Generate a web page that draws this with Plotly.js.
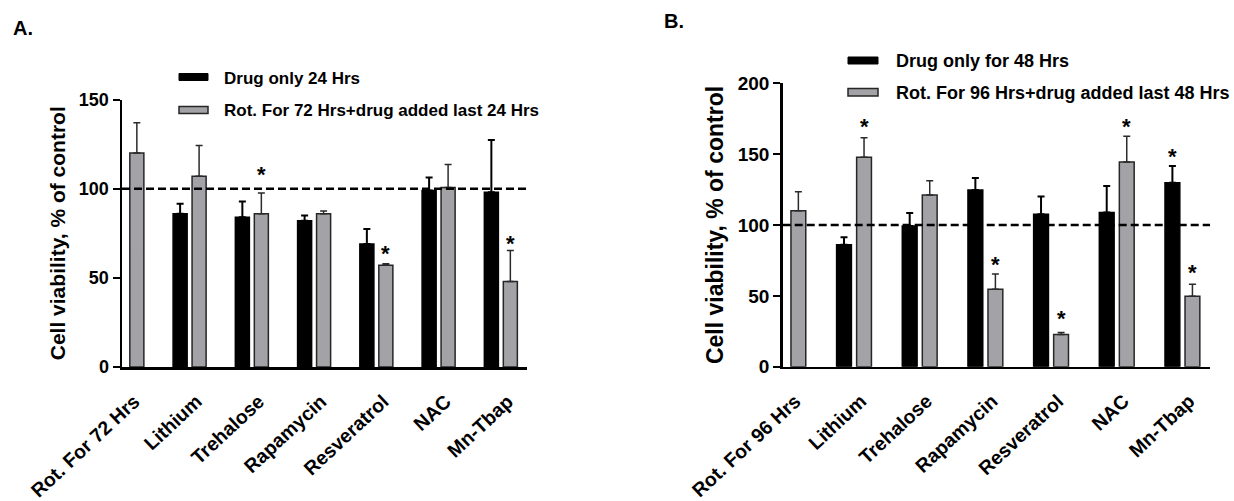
<!DOCTYPE html>
<html>
<head>
<meta charset="utf-8">
<script src="https://cdn.plot.ly/plotly-3.0.1.min.js"></script>
<style>
  html, body { margin: 0; padding: 0; background: #ffffff; }
  #chart { width: 1234px; height: 501px; }
</style>
</head>
<body>
<div id="chart"></div>
<script>
// ---------- data ----------
const categoriesA = ['Rot. For 72 Hrs', 'Lithium', 'Trehalose', 'Rapamycin', 'Resveratrol', 'NAC', 'Mn-Tbap'];
const categoriesB = ['Rot. For 96 Hrs', 'Lithium', 'Trehalose', 'Rapamycin', 'Resveratrol', 'NAC', 'Mn-Tbap'];

const seriesNamesA = ['Drug only 24 Hrs', 'Rot. For 72 Hrs+drug added last 24 Hrs'];
const seriesNamesB = ['Drug only for 48 Hrs', 'Rot. For 96 Hrs+drug added last 48 Hrs'];

const drugA    = [null, 86, 84, 82, 69, 99, 98];
const drugAErr = [null, 5.6, 8.8, 3, 8.4, 7.3, 29.3];
const rotA     = [120, 107, 86, 86, 57, 100.6, 48];
const rotAErr  = [17, 17.2, 11.6, 1.5, 0.9, 12.9, 17.3];
const starDrugA = [null, null, null, null, null, null, null];
const starRotA  = [null, null, 111, null, 66.6, null, 72.2];

const drugB    = [null, 86, 99.3, 124.7, 107.5, 108.9, 129.9];
const drugBErr = [null, 5.4, 9.2, 8.5, 12.7, 18.6, 11.7];
const rotB     = [110, 147.8, 121.2, 54.6, 22.8, 144.5, 49.7];
const rotBErr  = [13.5, 13.8, 10.1, 10.8, 1.4, 18.1, 8.4];
const starDrugB = [null, null, null, null, null, null, 151.7];
const starRotB  = [null, 172.9, null, 75.8, 37.7, 172.9, 70.1];

const refLine = 100;
const yTicksA = [0, 50, 100, 150];
const yTicksB = [0, 50, 100, 150, 200];
const yTitle = 'Cell viability, % of control';

// ---------- styles ----------
const FONT = 'Liberation Sans, Arial, Helvetica, sans-serif';
const BLACK = '#000000';
const GRAY = '#a3a3a7';
const BARGAP = 0.39, BARGROUPGAP = 0.26;
const slot = (1 - BARGAP) / 2;          // width of one bar slot in category units
const offDrug = -slot / 2, offRot = slot / 2;

function barTrace(cats, vals, errs, name, color, lineColor, errColor, errThick, xa, ya) {
  return {
    type: 'bar', x: cats, y: vals, name: name, xaxis: xa, yaxis: ya,
    marker: { color: color, line: { color: lineColor, width: 1.5 } },
    error_y: { type: 'data', symmetric: false, array: errs, arrayminus: errs.map(() => 0),
               color: errColor, thickness: errThick, width: 3.5 },
    showlegend: false, hoverinfo: 'x+y'
  };
}

const data = [
  barTrace(categoriesA, drugA, drugAErr, seriesNamesA[0], BLACK, BLACK, BLACK, 2, 'x', 'y'),
  barTrace(categoriesA, rotA, rotAErr, seriesNamesA[1], GRAY, '#262626', '#2a2a2a', 1.5, 'x', 'y'),
  barTrace(categoriesB, drugB, drugBErr, seriesNamesB[0], BLACK, BLACK, BLACK, 2, 'x2', 'y2'),
  barTrace(categoriesB, rotB, rotBErr, seriesNamesB[1], GRAY, '#262626', '#2a2a2a', 1.5, 'x2', 'y2')
];

// ---------- annotations ----------
const annotations = [];
function addStars(stars, offset, xref, yref) {
  stars.forEach((v, i) => {
    if (v === null) return;
    annotations.push({ xref: xref, yref: yref, x: i + offset, y: v, text: '*', showarrow: false,
      xanchor: 'center', yanchor: 'middle', yshift: -5,
      font: { family: FONT, size: 22, color: BLACK, weight: 'bold' } });
  });
}
addStars(starDrugA, offDrug, 'x', 'y');
addStars(starRotA, offRot, 'x', 'y');
addStars(starDrugB, offDrug, 'x2', 'y2');
addStars(starRotB, offRot, 'x2', 'y2');

function px(x) { return x / 1234; }
function py(y) { return (501 - y) / 501; }

// panel labels
annotations.push({ xref: 'paper', yref: 'paper', x: px(11), y: py(28), xanchor: 'left', yanchor: 'middle',
  text: 'A.', showarrow: false, font: { family: FONT, size: 20, color: BLACK, weight: 'bold' } });
annotations.push({ xref: 'paper', yref: 'paper', x: px(662), y: py(21), xanchor: 'left', yanchor: 'middle',
  text: 'B.', showarrow: false, font: { family: FONT, size: 20, color: BLACK, weight: 'bold' } });

// legend texts
function legendText(txt, x, y, size) {
  annotations.push({ xref: 'paper', yref: 'paper', x: px(x), y: py(y), xanchor: 'left', yanchor: 'middle',
    text: txt, showarrow: false, font: { family: FONT, size: size, color: BLACK, weight: 'bold' } });
}
legendText(seriesNamesA[0], 222, 78, 17);
legendText(seriesNamesA[1], 222, 111, 17);
legendText(seriesNamesB[0], 894, 61, 18);
legendText(seriesNamesB[1], 894, 93, 18);

const shapes = [
  { type: 'line', xref: 'x domain', yref: 'y', x0: 0, x1: 1, y0: refLine, y1: refLine,
    line: { color: BLACK, width: 2.5, dash: '8px,4px' }, layer: 'above' },
  { type: 'line', xref: 'x2 domain', yref: 'y2', x0: 0, x1: 1, y0: refLine, y1: refLine,
    line: { color: BLACK, width: 2.5, dash: '8px,4px' }, layer: 'above' },
  // legend swatches
  { type: 'rect', xref: 'paper', yref: 'paper', x0: px(179), x1: px(208), y0: py(80.5), y1: py(73.5),
    fillcolor: BLACK, line: { color: BLACK, width: 1 } },
  { type: 'rect', xref: 'paper', yref: 'paper', x0: px(179), x1: px(208), y0: py(113.5), y1: py(106.5),
    fillcolor: GRAY, line: { color: '#262626', width: 1.5 } },
  { type: 'rect', xref: 'paper', yref: 'paper', x0: px(848), x1: px(878), y0: py(64), y1: py(57),
    fillcolor: BLACK, line: { color: BLACK, width: 1 } },
  { type: 'rect', xref: 'paper', yref: 'paper', x0: px(848), x1: px(878), y0: py(96), y1: py(88.5),
    fillcolor: GRAY, line: { color: '#262626', width: 1.5 } }
];

function xAxis(domain, anchor, size) {
  return { domain: domain, anchor: anchor, type: 'category', range: [-0.086, 6.42],
    showline: true, linecolor: BLACK, linewidth: 2.5, ticks: '', showgrid: false, zeroline: false,
    tickangle: -43, ticklabelstandoff: 13, ticklabelshift: 7,
    tickfont: { family: FONT, size: size, color: BLACK, weight: 'bold' },
    fixedrange: true, automargin: false };
}
function yAxis(domain, anchor, range, ticks, size, titleSize) {
  return { domain: domain, anchor: anchor, range: range, tickvals: ticks, ticktext: ticks.map(String),
    showline: true, linecolor: BLACK, linewidth: 2.5, ticks: 'outside', ticklen: 7, tickwidth: 2,
    tickcolor: BLACK, showgrid: false, zeroline: false,
    tickfont: { family: FONT, size: size, color: BLACK, weight: 'bold' },
    title: { text: yTitle, standoff: 8, font: { family: FONT, size: titleSize, color: BLACK, weight: 'bold' } },
    fixedrange: true, automargin: false };
}

const layout = {
  width: 1234, height: 501,
  margin: { l: 0, r: 0, t: 0, b: 0 },
  paper_bgcolor: '#ffffff', plot_bgcolor: 'rgba(0,0,0,0)',
  barmode: 'group', bargap: BARGAP, bargroupgap: BARGROUPGAP,
  showlegend: false,
  xaxis: xAxis([px(122), px(527)], 'y', 19.5),
  yaxis: yAxis([py(367), py(99.5)], 'x', [0, 150], yTicksA, 18, 21),
  xaxis2: xAxis([px(782.7), px(1210)], 'y2', 19.5),
  yaxis2: yAxis([py(366.7), py(83.3)], 'x2', [0, 200], yTicksB, 19, 23),
  shapes: shapes,
  annotations: annotations
};

Plotly.newPlot('chart', data, layout, { displayModeBar: false, staticPlot: true });
</script>
</body>
</html>
